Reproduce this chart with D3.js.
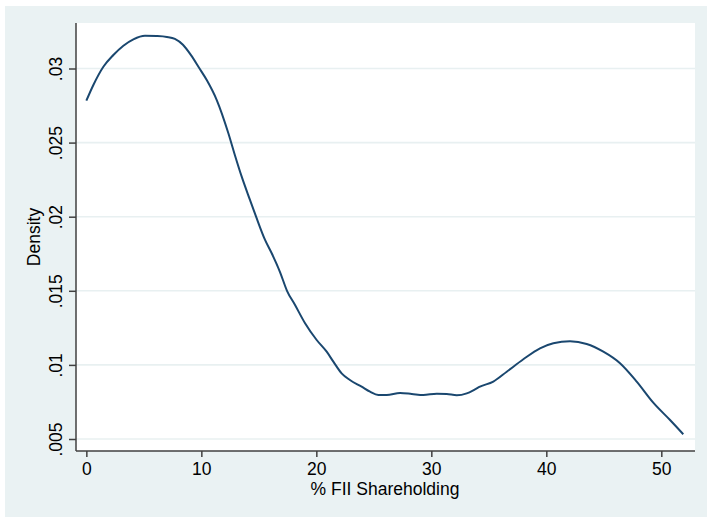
<!DOCTYPE html>
<html>
<head>
<meta charset="utf-8">
<script src="https://cdn.jsdelivr.net/npm/d3@7"></script>
<style>
  html, body { margin: 0; padding: 0; background: #ffffff; }
  svg { display: block; }
  text { font-family: "Liberation Sans", Arial, Helvetica, sans-serif; fill: #000; }
</style>
</head>
<body>
<svg id="chart" width="707" height="517"></svg>
<script>
// Kernel density of FII shareholding (%)
const shareholding = [0, 0.61, 1.48, 2.35, 3.22, 4.09, 5.1, 6.12, 7.0, 7.7, 8.4, 9.1, 9.8, 10.47, 11.34,
  12.35, 12.9, 13.51, 14.23, 14.76, 15.54, 16.12, 16.85, 17.45, 18.15, 19.02, 20.03, 20.9, 21.48,
  22.2, 22.92, 23.94, 24.67, 25.39, 26.12, 27.28, 28.3, 29.3, 30.47, 31.34, 32.21, 33.08, 33.8,
  34.23, 35.39, 36.56, 38.0, 39.45, 40.61, 42.06, 43.51, 44.96, 46.41, 47.86, 49.3, 50.76, 51.91];
const density = [0.02783, 0.02889, 0.03012, 0.03091, 0.03154, 0.03197, 0.03221, 0.03219, 0.03213, 0.03200,
  0.03160, 0.03090, 0.03005, 0.02922, 0.02787, 0.02563, 0.02420, 0.02270, 0.02113, 0.02000, 0.01843,
  0.01753, 0.01625, 0.01500, 0.01404, 0.01281, 0.01168, 0.01089, 0.01022, 0.00943, 0.00898, 0.00853,
  0.00819, 0.00797, 0.00797, 0.00810, 0.00804, 0.00797, 0.00806, 0.00804, 0.00795, 0.00808, 0.00835,
  0.00853, 0.00887, 0.00954, 0.01038, 0.01112, 0.01146, 0.01159, 0.01141, 0.01089, 0.01011, 0.00887,
  0.00745, 0.00628, 0.00532];
const xTicks = [0, 10, 20, 30, 40, 50];
const yTicks = [0.005, 0.01, 0.015, 0.02, 0.025, 0.03];
const yTickLabels = [".005", ".01", ".015", ".02", ".025", ".03"];

const svg = d3.select("#chart");
const plot = { left: 76, right: 695, top: 23, bottom: 451 };

// graph region background
svg.append("rect").attr("x", 5).attr("y", 6).attr("width", 702).attr("height", 511)
  .attr("fill", "#eaf2f3");
// plot region
svg.append("rect").attr("x", plot.left).attr("y", plot.top)
  .attr("width", plot.right - plot.left).attr("height", plot.bottom - plot.top)
  .attr("fill", "#ffffff");

const x = d3.scaleLinear().domain([-0.9, 52.93]).range([plot.left, plot.right]);
const y = d3.scaleLinear().domain([0.00419, 0.03307]).range([plot.bottom, plot.top]);

// horizontal grid lines
svg.append("g").selectAll("line").data(yTicks).join("line")
  .attr("x1", plot.left).attr("x2", plot.right)
  .attr("y1", d => y(d)).attr("y2", d => y(d))
  .attr("stroke", "#e8f0f1").attr("stroke-width", 1.6);

// density curve
const line = d3.line()
  .x((d, i) => x(shareholding[i]))
  .y(d => y(d))
  .curve(d3.curveMonotoneX);
svg.append("path").datum(density)
  .attr("d", line)
  .attr("fill", "none")
  .attr("stroke", "#1a476f")
  .attr("stroke-width", 2)
  .attr("stroke-linejoin", "round");

// x axis
const xAxis = svg.append("g").attr("transform", `translate(0,${plot.bottom})`)
  .call(d3.axisBottom(x).tickValues(xTicks).tickFormat(d3.format("d")).tickSize(6).tickPadding(5));
xAxis.select(".domain").attr("d", `M${plot.left},0H${plot.right}`);
// y axis
const yAxis = svg.append("g").attr("transform", `translate(${plot.left},0)`)
  .call(d3.axisLeft(y).tickValues(yTicks).tickFormat((d, i) => yTickLabels[i]).tickSize(7));
yAxis.select(".domain").attr("d", `M0,${plot.top}V${plot.bottom}`);

[xAxis, yAxis].forEach(g => {
  g.select(".domain").attr("stroke", "#404040").attr("stroke-width", 1.5);
  g.selectAll(".tick line").attr("stroke", "#404040").attr("stroke-width", 1.5);
  g.selectAll(".tick text").attr("font-size", 17.5).attr("fill", "#000")
    .attr("font-family", "'Liberation Sans', Arial, Helvetica, sans-serif");
});
xAxis.selectAll(".tick text").attr("dy", null).attr("y", 0)
  .attr("transform", "translate(0,24)");
// rotated y tick labels
yAxis.selectAll(".tick text")
  .attr("x", null).attr("dy", null).attr("text-anchor", "middle")
  .attr("transform", "translate(-14,0) rotate(-90)");

// axis titles
svg.append("text").attr("x", 385).attr("y", 495).attr("text-anchor", "middle")
  .attr("font-size", 17.5).text("% FII Shareholding");
svg.append("text").attr("transform", "translate(40,237) rotate(-90)")
  .attr("text-anchor", "middle").attr("font-size", 17.5).text("Density");
</script>
</body>
</html>
